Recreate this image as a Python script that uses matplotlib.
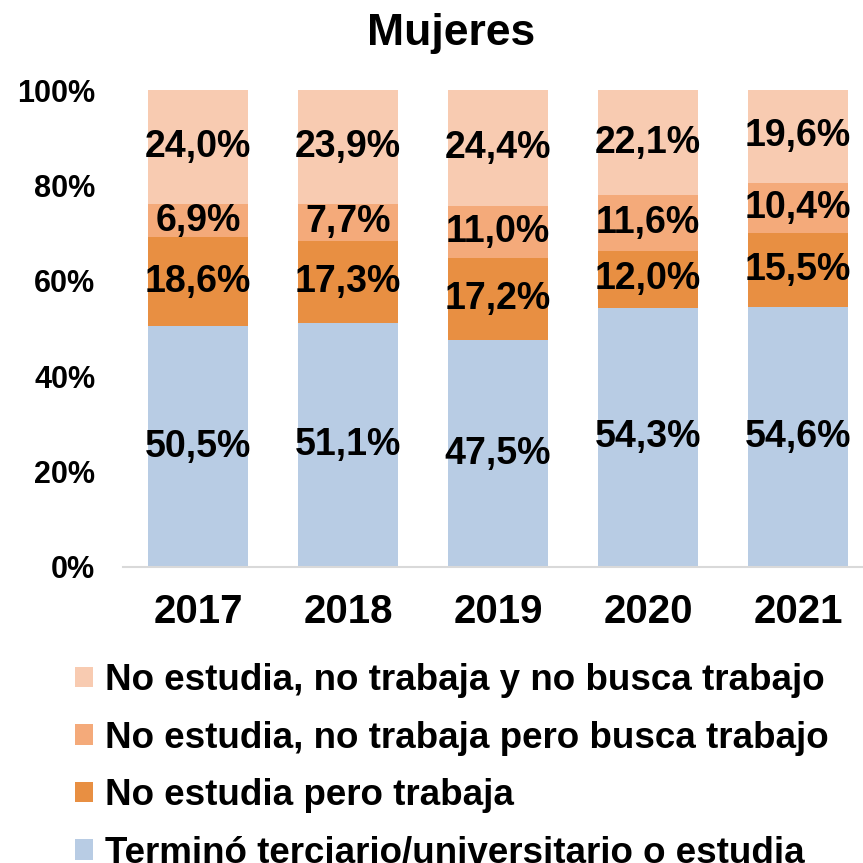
import numpy as np
import matplotlib.pyplot as plt

plt.rcParams['font.family'] = ['Liberation Sans', 'DejaVu Sans']
plt.rcParams['font.weight'] = 'bold'

# ---- datos ----
years = ['2017', '2018', '2019', '2020', '2021']
termino = [50.5, 51.1, 47.5, 54.3, 54.6]
trabaja = [18.6, 17.3, 17.2, 12.0, 15.5]
busca = [6.9, 7.7, 11.0, 11.6, 10.4]
no_busca = [24.0, 23.9, 24.4, 22.1, 19.6]

series = [
    ('Terminó terciario/universitario o estudia', termino, '#B8CCE4'),
    ('No estudia pero trabaja', trabaja, '#E88F42'),
    ('No estudia, no trabaja pero busca trabajo', busca, '#F4AA7A'),
    ('No estudia, no trabaja y no busca trabajo', no_busca, '#F8CBB1'),
]

fig = plt.figure(figsize=(8.63, 8.63), dpi=100)
ax = fig.add_axes([123 / 863, 296 / 863, 750 / 863, 477 / 863])

x = np.arange(len(years))
bottom = np.zeros(len(years))
handles = []
for label, vals, color in series:
    v = np.array(vals) / 100
    b = ax.bar(x, v, 0.667, bottom=bottom, color=color, label=label)
    handles.append(b)
    for xi, bi, vi in zip(x, bottom, v):
        ax.text(xi, bi + vi / 2, f"{vi * 100:.1f}%".replace('.', ','),
                ha='center', va='center', fontsize=27, fontweight='bold')
    bottom += v

ax.set_xlim(-0.5, 4.5)
ax.set_ylim(0, 1)
ax.set_yticks(np.arange(0, 1.01, 0.2))
ax.set_yticklabels([f"{int(t * 100)}%" for t in np.arange(0, 1.01, 0.2)], fontsize=22, fontweight='bold')
ax.set_xticks(x)
ax.set_xticklabels(years, fontsize=29, fontweight='bold')
ax.tick_params(axis='both', length=0)
ax.tick_params(axis='y', pad=20)
ax.tick_params(axis='x', pad=19)
for s in ['top', 'right', 'left']:
    ax.spines[s].set_visible(False)
ax.spines['bottom'].set_color('#D9D9D9')
ax.spines['bottom'].set_linewidth(1.5)

fig.text(451 / 863, 1 - 34 / 863, 'Mujeres', ha='center', va='center', fontsize=32, fontweight='bold')

fig.legend(handles[::-1], [s[0] for s in series][::-1], loc='upper left',
           bbox_to_anchor=(42 / 863, 1 - 630 / 863), frameon=False, fontsize=26.5,
           handlelength=0.49, handleheight=0.49, handletextpad=0.33, labelspacing=0.61)

fig.savefig('out.png', dpi=100)
